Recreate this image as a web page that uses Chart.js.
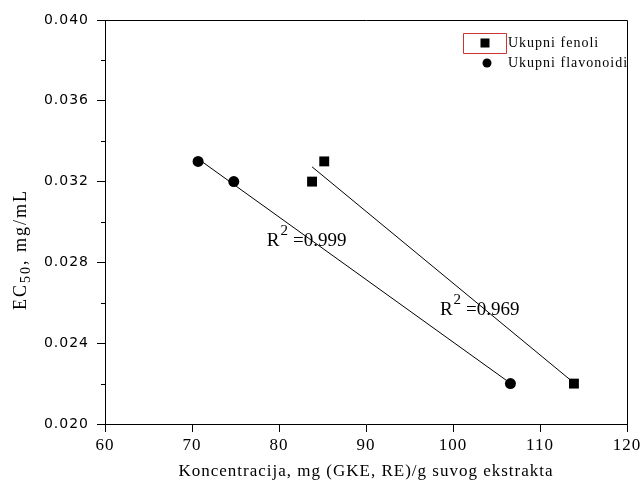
<!DOCTYPE html>
<html lang="sr">
<head>
<meta charset="UTF-8">
<title>EC50 - Ukupni fenoli i flavonoidi</title>
<script src="https://cdn.jsdelivr.net/npm/chart.js"></script>
<style>
  html, body { margin: 0; padding: 0; background: #fff; }
  #wrap { width: 641px; height: 487px; }
</style>
</head>
<body>
<div id="wrap"><canvas id="myChart" width="641" height="487"></canvas></div>
<script>
// Ukupni fenoli (kvadrati)
const fenoliX = [83.8, 85.2, 113.9];
const fenoliY = [0.032, 0.033, 0.022];
// Ukupni flavonoidi (krugovi)
const flavX = [70.7, 74.8, 106.6];
const flavY = [0.033, 0.032, 0.022];

const xTicks = [60, 70, 80, 90, 100, 110, 120];
const yTicks = [0.020, 0.024, 0.028, 0.032, 0.036, 0.040];
const yMinor = [0.022, 0.026, 0.030, 0.034, 0.038];

const legendLabels = ['Ukupni fenoli', 'Ukupni flavonoidi'];
const r2Values = ['0.999', '0.969'];
const r2At = [[78.6, 0.0288], [98.5, 0.0254]]; // gdje stoji tekst R2 (jedinice podataka)

const SERIF = '"Liberation Serif", "Times New Roman", serif';

// linearna regresija, linija od najmanjeg do najveceg x
function fitLine(xs, ys) {
    const n = xs.length;
    const mx = xs.reduce((a, b) => a + b, 0) / n;
    const my = ys.reduce((a, b) => a + b, 0) / n;
    let sxy = 0, sxx = 0;
    for (let i = 0; i < n; i++) {
        sxy += (xs[i] - mx) * (ys[i] - my);
        sxx += (xs[i] - mx) * (xs[i] - mx);
    }
    const b = sxy / sxx, a = my - b * mx;
    const lo = Math.min(...xs), hi = Math.max(...xs);
    return [{x: lo, y: a + b * lo}, {x: hi, y: a + b * hi}];
}

const toPts = (xs, ys) => xs.map((v, i) => ({x: v, y: ys[i]}));

const extras = {
    id: 'extras',
    beforeDraw(chart) {
        chart.ctx.letterSpacing = '1px';
    },
    afterDraw(chart) {
        const {ctx, chartArea: a, scales: {x, y}} = chart;
        ctx.save();
        ctx.strokeStyle = '#000';
        ctx.fillStyle = '#000';
        ctx.lineWidth = 1;

        // okvir gore i desno
        ctx.beginPath();
        ctx.moveTo(a.left, a.top + 0.5);
        ctx.lineTo(a.right + 0.5, a.top + 0.5);
        ctx.lineTo(a.right + 0.5, a.bottom);
        ctx.stroke();

        // mali podeoci na y osi
        ctx.beginPath();
        yMinor.forEach(v => {
            const py = Math.round(y.getPixelForValue(v)) + 0.5;
            ctx.moveTo(a.left - 4, py);
            ctx.lineTo(a.left, py);
        });
        ctx.stroke();

        // R^2 tekst
        ctx.letterSpacing = '0px';
        ctx.textAlign = 'left';
        ctx.textBaseline = 'alphabetic';
        r2Values.forEach((t, i) => {
            let px = x.getPixelForValue(r2At[i][0]);
            const py = y.getPixelForValue(r2At[i][1]);
            ctx.font = '19px ' + SERIF;
            ctx.fillText('R', px, py);
            px += ctx.measureText('R').width + 1;
            ctx.font = '15px ' + SERIF;
            ctx.fillText('2', px, py - 11);
            px += ctx.measureText('2').width + 5;
            ctx.font = '19px ' + SERIF;
            ctx.fillText('=' + t, px, py);
        });

        // legenda
        ctx.beginPath();
        ctx.rect(463.5, 33.5, 43, 20);
        ctx.strokeStyle = '#cc3333';
        ctx.stroke();
        ctx.letterSpacing = '1px';
        ctx.font = '14px ' + SERIF;
        ctx.textBaseline = 'middle';
        ctx.fillRect(485 - 4.5, 43 - 4.5, 9, 9);
        ctx.fillText(legendLabels[0], 508, 43);
        ctx.beginPath();
        ctx.arc(487, 63, 4.5, 0, Math.PI * 2);
        ctx.fill();
        ctx.fillText(legendLabels[1], 508, 63);

        // naslov y ose sa indeksom
        ctx.translate(26, 310);
        ctx.rotate(-Math.PI / 2);
        ctx.textBaseline = 'alphabetic';
        ctx.letterSpacing = '2px';
        let tx = 0;
        ctx.font = '18px ' + SERIF;
        ctx.fillText('EC', tx, 0);
        tx += ctx.measureText('EC').width;
        ctx.font = '14px ' + SERIF;
        ctx.fillText('50', tx, 4);
        tx += ctx.measureText('50').width;
        ctx.font = '18px ' + SERIF;
        ctx.fillText(', mg/mL', tx, 0);
        ctx.restore();
        ctx.letterSpacing = '0px';
    }
};

const ctx = document.getElementById('myChart').getContext('2d');
const myChart = new Chart(ctx, {
    type: 'scatter',
    data: {
        datasets: [
            {
                label: 'fit fenoli',
                data: fitLine(fenoliX, fenoliY),
                showLine: true,
                borderColor: '#000',
                borderWidth: 1,
                pointRadius: 0
            },
            {
                label: 'fit flavonoidi',
                data: fitLine(flavX, flavY),
                showLine: true,
                borderColor: '#000',
                borderWidth: 1,
                pointRadius: 0
            },
            {
                label: legendLabels[0],
                data: toPts(fenoliX, fenoliY),
                pointStyle: 'rect',
                pointRadius: 7,
                backgroundColor: '#000',
                borderColor: '#000',
                borderWidth: 0
            },
            {
                label: legendLabels[1],
                data: toPts(flavX, flavY),
                pointStyle: 'circle',
                pointRadius: 5.5,
                backgroundColor: '#000',
                borderColor: '#000',
                borderWidth: 0
            }
        ]
    },
    options: {
        responsive: false,
        animation: false,
        layout: { padding: { left: 0, right: 14, top: 20, bottom: 0 } },
        plugins: {
            legend: { display: false },
            tooltip: { enabled: false }
        },
        scales: {
            x: {
                type: 'linear',
                min: 60,
                max: 120,
                afterBuildTicks: s => { s.ticks = xTicks.map(v => ({value: v})); },
                afterFit: s => { s.height = 63; s.paddingLeft = 0; s.paddingRight = 0; },
                ticks: {
                    color: '#000',
                    font: { family: SERIF, size: 17 },
                    padding: 3,
                    maxRotation: 0
                },
                grid: { drawOnChartArea: false, tickLength: 8, tickColor: '#000' },
                border: { color: '#000', width: 1 },
                title: {
                    display: true,
                    text: 'Koncentracija, mg (GKE, RE)/g suvog ekstrakta',
                    color: '#000',
                    font: { family: SERIF, size: 17 },
                    padding: { top: 2, bottom: 5 }
                }
            },
            y: {
                type: 'linear',
                min: 0.020,
                max: 0.040,
                afterBuildTicks: s => { s.ticks = yTicks.map(v => ({value: v})); },
                afterFit: s => { s.width = 105; },
                ticks: {
                    color: '#000',
                    font: { family: 'DejaVu Sans', size: 14 },
                    padding: 8,
                    callback: v => v.toFixed(3)
                },
                grid: { drawOnChartArea: false, tickLength: 8, tickColor: '#000' },
                border: { color: '#000', width: 1 }
            }
        }
    },
    plugins: [extras]
});
</script>
</body>
</html>
